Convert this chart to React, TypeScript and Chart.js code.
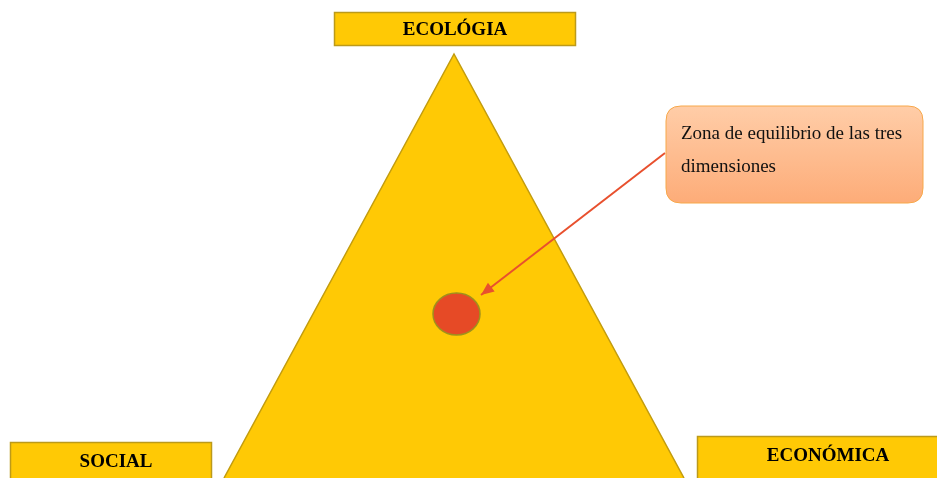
import React, { useEffect, useRef } from "react";
import { Chart, registerables } from "chart.js";

Chart.register(...registerables);

// Diagram coordinates (x: 0..937, y: 0..478 top-down)
const triangleX = [224, 454, 684];
const triangleY = [478, 54, 478];

const dimensionLabels = ["ECOLÓGIA", "SOCIAL", "ECONÓMICA"];
const labelBoxX0 = [334, 10, 697];
const labelBoxX1 = [576, 212, 960];
const labelBoxY0 = [12, 442, 436];
const labelBoxY1 = [46, 490, 490];
const labelTextX = [455, 116, 828];
const labelTextY = [30, 462, 456];

const markerX = [456.5];
const markerY = [314];
const markerRX = [23.5];
const markerRY = [21];

const arrowX = [665, 481];
const arrowY = [153, 295];

const calloutLines = ["Zona de equilibrio de las tres", "dimensiones"];
const calloutBox = [666, 106, 923, 203];
const calloutTextX = [681, 681];
const calloutTextY = [139, 172];

const YELLOW = "#FFC905";
const YELLOW_EDGE = "#BC9A1A";

const diagramPlugin = {
  id: "diagram",
  beforeDatasetsDraw(chart: any) {
    const { ctx, scales } = chart;
    const sx = scales.x;
    const sy = scales.y;
    ctx.save();
    for (let i = 0; i < dimensionLabels.length; i++) {
      const x0 = sx.getPixelForValue(labelBoxX0[i]);
      const x1 = sx.getPixelForValue(labelBoxX1[i]);
      const y0 = sy.getPixelForValue(labelBoxY0[i]);
      const y1 = sy.getPixelForValue(labelBoxY1[i]);
      ctx.fillStyle = YELLOW;
      ctx.fillRect(x0, y0, x1 - x0, y1 - y0);
      ctx.strokeStyle = YELLOW_EDGE;
      ctx.lineWidth = 1.5;
      ctx.strokeRect(x0 + 0.5, y0 + 0.5, x1 - x0 - 1, y1 - y0 - 1);
      ctx.fillStyle = "#000";
      ctx.font = "bold 19px 'Liberation Serif', 'Times New Roman', serif";
      ctx.textAlign = "center";
      ctx.textBaseline = "middle";
      ctx.fillText(
        dimensionLabels[i],
        sx.getPixelForValue(labelTextX[i]),
        sy.getPixelForValue(labelTextY[i])
      );
    }
    ctx.restore();
  },
  afterDatasetsDraw(chart: any) {
    const { ctx, scales } = chart;
    const sx = scales.x;
    const sy = scales.y;
    ctx.save();
    for (let i = 0; i < markerX.length; i++) {
      const cx = sx.getPixelForValue(markerX[i]);
      const cy = sy.getPixelForValue(markerY[i]);
      const rx = Math.abs(sx.getPixelForValue(markerX[i] + markerRX[i]) - cx);
      const ry = Math.abs(sy.getPixelForValue(markerY[i] + markerRY[i]) - cy);
      ctx.beginPath();
      ctx.ellipse(cx, cy, rx, ry, 0, 0, Math.PI * 2);
      ctx.fillStyle = "#E64A26";
      ctx.fill();
      ctx.strokeStyle = "#A0901C";
      ctx.lineWidth = 1.5;
      ctx.stroke();
    }
    const ax0 = sx.getPixelForValue(arrowX[0]);
    const ay0 = sy.getPixelForValue(arrowY[0]);
    const ax1 = sx.getPixelForValue(arrowX[1]);
    const ay1 = sy.getPixelForValue(arrowY[1]);
    const ang = Math.atan2(ay1 - ay0, ax1 - ax0);
    const len = 13;
    const half = 5.5;
    const bx = ax1 - Math.cos(ang) * len;
    const by = ay1 - Math.sin(ang) * len;
    ctx.beginPath();
    ctx.moveTo(ax1, ay1);
    ctx.lineTo(bx + Math.sin(ang) * half, by - Math.cos(ang) * half);
    ctx.lineTo(bx - Math.sin(ang) * half, by + Math.cos(ang) * half);
    ctx.closePath();
    ctx.fillStyle = "#E8502E";
    ctx.fill();

    const cx0 = sx.getPixelForValue(calloutBox[0]);
    const cy0 = sy.getPixelForValue(calloutBox[1]);
    const cx1 = sx.getPixelForValue(calloutBox[2]);
    const cy1 = sy.getPixelForValue(calloutBox[3]);
    const r = 15;
    ctx.beginPath();
    ctx.moveTo(cx0 + r, cy0);
    ctx.lineTo(cx1 - r, cy0);
    ctx.quadraticCurveTo(cx1, cy0, cx1, cy0 + r);
    ctx.lineTo(cx1, cy1 - r);
    ctx.quadraticCurveTo(cx1, cy1, cx1 - r, cy1);
    ctx.lineTo(cx0 + r, cy1);
    ctx.quadraticCurveTo(cx0, cy1, cx0, cy1 - r);
    ctx.lineTo(cx0, cy0 + r);
    ctx.quadraticCurveTo(cx0, cy0, cx0 + r, cy0);
    ctx.closePath();
    const grad = ctx.createLinearGradient(0, cy0, 0, cy1);
    grad.addColorStop(0, "#FFCDA8");
    grad.addColorStop(1, "#FDAC78");
    ctx.fillStyle = grad;
    ctx.fill();
    ctx.strokeStyle = "#F7A84A";
    ctx.lineWidth = 1;
    ctx.stroke();
    ctx.fillStyle = "#111";
    ctx.font = "19px 'Liberation Serif', 'Times New Roman', serif";
    ctx.textAlign = "left";
    ctx.textBaseline = "alphabetic";
    for (let i = 0; i < calloutLines.length; i++) {
      ctx.fillText(
        calloutLines[i],
        sx.getPixelForValue(calloutTextX[i]),
        sy.getPixelForValue(calloutTextY[i])
      );
    }
    ctx.restore();
  },
};

export default function App() {
  const canvasRef = useRef<HTMLCanvasElement | null>(null);

  useEffect(() => {
    document.body.style.margin = "0";
    const canvas = canvasRef.current;
    if (!canvas) return;
    const triangleData = triangleX.map((x, i) => ({ x, y: triangleY[i] }));
    const arrowData = arrowX.map((x, i) => ({ x, y: arrowY[i] }));
    const chart = new Chart(canvas, {
      type: "line",
      data: {
        datasets: [
          {
            label: "Flecha",
            data: arrowData,
            borderColor: "#E8502E",
            borderWidth: 2,
            fill: false,
            pointRadius: 0,
            tension: 0,
            order: 1,
          },
          {
            label: "Triángulo",
            data: triangleData,
            borderColor: "#C29C0E",
            borderWidth: 1.5,
            backgroundColor: YELLOW,
            fill: { target: { value: 478 } },
            pointRadius: 0,
            tension: 0,
            clip: 0,
            order: 2,
          } as any,
        ],
      },
      options: {
        animation: false,
        responsive: false,
        maintainAspectRatio: false,
        layout: { padding: 0 },
        plugins: {
          legend: { display: false },
          tooltip: { enabled: false },
        },
        scales: {
          x: { type: "linear", min: 0, max: 937, display: false },
          y: { type: "linear", min: 0, max: 478, reverse: true, display: false },
        },
      },
      plugins: [diagramPlugin],
    });
    return () => chart.destroy();
  }, []);

  return (
    <div style={{ width: 937, height: 478, background: "#fff" }}>
      <canvas ref={canvasRef} width={937} height={478} style={{ display: "block" }} />
    </div>
  );
}
